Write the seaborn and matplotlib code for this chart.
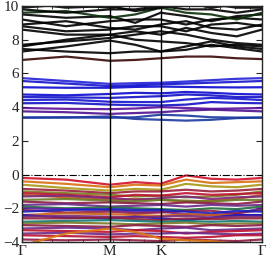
import pandas as pd
import matplotlib
matplotlib.use("Agg")
import matplotlib.pyplot as plt
import seaborn as sns
from matplotlib.ticker import MultipleLocator

# k-path sample points (Gamma - M - K - Gamma)
kpath = [0.0, 0.289, 0.577, 0.744, 0.911, 1.078, 1.244, 1.411, 1.577]
sym_pos = [0.0, 0.577, 0.911, 1.577]
sym_labels = ["Γ", "M", "K", "Γ"]

# conduction bands, upper group (black)
cond_hi = [
    [6.8, 7.0, 6.75, 6.8, 6.9, 7.0, 7.0, 6.9, 6.85],
    [7.3, 7.6, 7.95, 7.7, 7.3, 7.4, 7.7, 7.5, 7.3],
    [7.45, 7.3, 7.2, 7.3, 7.3, 7.6, 7.9, 7.6, 7.45],
    [7.6, 8.0, 8.3, 8.0, 7.9, 7.8, 7.6, 7.7, 7.6],
    [7.7, 7.9, 8.1, 8.3, 8.5, 8.3, 8.0, 7.8, 7.7],
    [8.6, 8.3, 8.3, 8.5, 8.3, 8.7, 8.4, 8.2, 8.6],
    [8.8, 8.5, 8.6, 8.8, 8.8, 8.5, 8.9, 9.0, 8.8],
    [8.9, 9.1, 8.7, 8.6, 8.9, 9.1, 8.7, 8.6, 8.9],
    [9.2, 8.8, 9.1, 9.2, 9.2, 8.9, 9.2, 9.3, 9.2],
    [9.5, 9.3, 9.4, 9.0, 9.6, 9.4, 9.1, 9.4, 9.5],
    [9.6, 9.7, 9.3, 9.5, 9.9, 9.6, 9.5, 9.2, 9.6],
    [9.8, 9.6, 9.8, 9.8, 10.0, 9.8, 9.8, 9.6, 9.8],
    [9.9, 10.1, 9.9, 10.1, 10.2, 10.0, 10.1, 9.9, 9.9],
    [10.2, 9.9, 10.0, 9.7, 9.9, 10.2, 9.9, 10.1, 10.2],
]
cond_hi_colors = ["#3a0808"] + ["#000000"] * 9 + ["#0a300a", "#000000", "#000000", "#000000"]

# conduction bands, lower group (blue)
cond_lo = [
    [5.72, 5.55, 5.38, 5.42, 5.45, 5.52, 5.6, 5.68, 5.72],
    [5.55, 5.4, 5.25, 5.3, 5.35, 5.4, 5.45, 5.5, 5.55],
    [5.18, 5.15, 5.15, 5.2, 5.22, 5.2, 5.18, 5.17, 5.18],
    [4.75, 4.7, 4.78, 4.85, 4.82, 4.9, 4.85, 4.78, 4.75],
    [4.6, 4.58, 4.55, 4.6, 4.65, 4.75, 4.7, 4.6, 4.6],
    [4.42, 4.45, 4.32, 4.3, 4.3, 4.45, 4.55, 4.5, 4.42],
    [4.23, 4.25, 4.15, 4.12, 4.1, 4.15, 4.3, 4.25, 4.23],
    [3.95, 3.9, 3.88, 3.92, 4.0, 3.95, 3.9, 3.92, 3.95],
    [3.75, 3.7, 3.6, 3.65, 3.7, 3.8, 3.85, 3.8, 3.75],
    [3.38, 3.4, 3.37, 3.4, 3.55, 3.5, 3.4, 3.38, 3.38],
    [3.38, 3.38, 3.45, 3.3, 3.25, 3.2, 3.25, 3.35, 3.38],
]
cond_lo_colors = ["#2222d8", "#1414cc", "#0a0ad0", "#0a0ad0", "#1010c8",
                  "#1414d0", "#1010c8", "#5a0c9a", "#501090", "#1a3aa0", "#1a3aa0"]

# valence bands
val = [
    [-0.2, -0.3, -0.6, -0.45, -0.55, -0.05, -0.25, -0.3, -0.2],
    [-0.4, -0.55, -0.75, -0.6, -0.65, -0.3, -0.5, -0.45, -0.4],
    [-0.6, -0.8, -0.95, -0.85, -0.9, -0.55, -0.7, -0.75, -0.6],
    [-0.85, -0.95, -1.1, -1.0, -1.0, -0.9, -1.0, -0.95, -0.85],
    [-1.0, -1.1, -1.2, -1.3, -1.25, -1.35, -1.3, -1.2, -1.0],
    [-1.1, -1.2, -1.35, -1.2, -1.25, -1.1, -1.2, -1.15, -1.1],
    [-1.2, -1.35, -1.5, -1.45, -1.5, -1.6, -1.55, -1.45, -1.2],
    [-1.3, -1.25, -1.4, -1.5, -1.4, -1.3, -1.45, -1.35, -1.3],
    [-1.5, -1.45, -1.55, -1.6, -1.5, -1.55, -1.6, -1.5, -1.5],
    [-1.6, -1.7, -1.65, -1.7, -1.75, -1.65, -1.7, -1.75, -1.6],
    [-1.8, -1.75, -1.9, -1.85, -1.8, -1.9, -1.8, -1.85, -1.8],
    [-1.9, -2.0, -1.95, -2.0, -2.05, -2.1, -2.0, -2.05, -1.9],
    [-2.0, -2.05, -2.1, -2.2, -2.2, -2.35, -2.4, -2.3, -2.0],
    [-2.1, -2.25, -2.2, -2.3, -2.25, -2.15, -2.15, -2.3, -2.1],
    [-2.2, -2.1, -2.05, -2.1, -2.1, -2.2, -2.3, -2.15, -2.2],
    [-2.4, -2.3, -2.35, -2.4, -2.45, -2.35, -2.4, -2.4, -2.4],
    [-2.4, -2.55, -2.6, -2.5, -2.6, -2.7, -2.55, -2.4, -2.4],
    [-2.5, -2.45, -2.5, -2.55, -2.5, -2.45, -2.55, -2.5, -2.5],
    [-2.6, -2.6, -2.55, -2.65, -2.7, -2.6, -2.65, -2.6, -2.6],
    [-2.8, -2.75, -2.7, -2.75, -2.8, -2.75, -2.8, -2.75, -2.8],
    [-2.9, -2.85, -2.9, -2.95, -2.9, -2.85, -2.95, -2.9, -2.9],
    [-3.0, -3.05, -3.1, -3.0, -3.05, -3.1, -3.0, -3.05, -3.0],
    [-3.2, -3.15, -3.2, -3.3, -3.2, -3.15, -3.3, -3.25, -3.2],
    [-3.3, -3.35, -3.4, -3.3, -3.35, -3.5, -3.4, -3.35, -3.3],
    [-3.5, -3.45, -3.55, -3.5, -3.5, -3.45, -3.5, -3.55, -3.5],
    [-3.6, -3.65, -3.7, -3.65, -3.7, -3.75, -3.7, -3.6, -3.6],
    [-3.85, -3.9, -3.85, -3.9, -3.95, -3.85, -3.9, -3.95, -3.85],
    [-4.2, -3.5, -3.2, -3.4, -3.8, -3.9, -3.95, -4.1, -4.2],
]
val_colors = ["#d0102a", "#d87010", "#a89818", "#9a2038", "#7a7a20",
              "#c01030", "#c05818", "#7a2a7a", "#6a7a28", "#8a1a40",
              "#6a2a88", "#1e6d3a", "#6020a0", "#902048", "#1a20c0",
              "#c86018", "#1010c8", "#7a2a7a", "#902038", "#107878",
              "#7a7a28", "#8a1a40", "#6a2a88", "#c0102a", "#6a2a88",
              "#b81030", "#8a1a40", "#e07810"]

# build long table
rows = []
palette = {}
for name, bands, cols in [("c", cond_hi, cond_hi_colors),
                          ("b", cond_lo, cond_lo_colors),
                          ("v", val, val_colors)]:
    for i, (e, c) in enumerate(zip(bands, cols)):
        label = f"{name}{i}"
        palette[label] = c
        for k, en in zip(kpath, e):
            rows.append({"k": k, "E": en, "band": label})
df = pd.DataFrame(rows)

sns.set_style("ticks")
plt.rcParams["font.family"] = ["Liberation Serif", "DejaVu Serif"]

fig = plt.figure(figsize=(2.66, 2.58), dpi=100)
ax = fig.add_axes([22 / 266, 1 - 242 / 258, 240 / 266, 236 / 258])

sns.lineplot(data=df, x="k", y="E", hue="band", palette=palette, legend=False,
             sort=False, estimator=None, linewidth=1.6, alpha=0.9, ax=ax)

for p in sym_pos[1:-1]:
    ax.axvline(p, color="black", lw=1.0)
ax.axhline(0, color="black", lw=0.8, ls="-.")

ax.set_xlim(0, sym_pos[-1])
ax.set_ylim(-4, 10)
ax.set_xticks(sym_pos)
ax.set_xticklabels(sym_labels)
ax.set_yticks(range(-4, 11, 2))
ax.xaxis.set_minor_locator(MultipleLocator(0.1))
ax.tick_params(direction="in", top=True, right=True, labelsize=11, pad=2, length=4, width=0.8)
ax.tick_params(which="minor", direction="in", top=True, length=2, width=0.6)
ax.set_xlabel("")
ax.set_ylabel("")
for s in ax.spines.values():
    s.set_linewidth(1.0)

fig.savefig("out.png", dpi=100)
